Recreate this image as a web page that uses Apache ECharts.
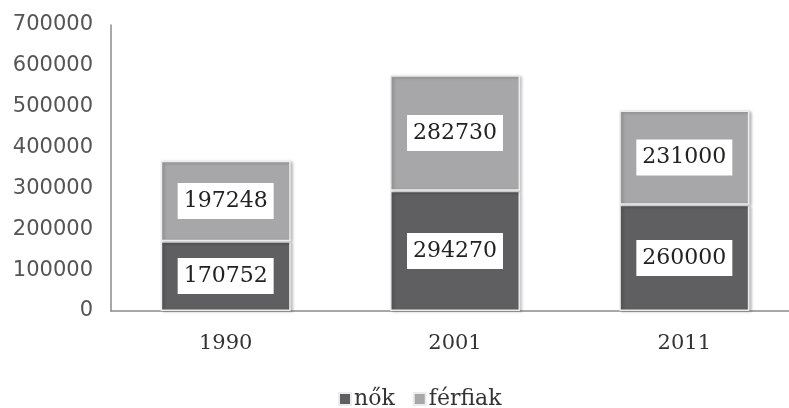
<!DOCTYPE html>
<html>
<head>
<meta charset="utf-8">
<script src="https://cdn.jsdelivr.net/npm/echarts@6/dist/echarts.min.js"></script>
<style>
  html, body { margin: 0; padding: 0; background: #fff; }
  #main { width: 789px; height: 408px; }
</style>
</head>
<body>
<div id="main"></div>
<script>
// chart data
const years = ["1990", "2001", "2011"];
const nok = [170752, 294270, 260000];
const ferfiak = [197248, 282730, 231000];

const darkGray = "#5f5f61";
const lightGray = "#a7a7a9";

const labelStyle = {
  show: true,
  position: "inside",
  color: "#222",
  fontFamily: "DejaVu Serif",
  fontSize: 22,
  backgroundColor: "#fff",
  padding: [8, 6, 6, 6]
};

const barStyle = (color) => ({
  color: color,
  borderColor: "#ececec",
  borderWidth: 1.5,
  shadowColor: "rgba(0,0,0,0.25)",
  shadowBlur: 3,
  shadowOffsetX: 2,
  shadowOffsetY: 1
});

let options = {
  animation: false,
  grid: { left: 111, width: 688, top: 25, bottom: 97, outerBoundsMode: "none", containLabel: false },
  legend: {
    top: 388,
    left: 338,
    padding: 0,
    itemWidth: 12,
    itemHeight: 12,
    itemGap: 18,
    icon: "rect",
    textStyle: { fontFamily: "DejaVu Serif", fontSize: 22, color: "#333", padding: [0, 0, 0, -2] },
    data: ["nők", "férfiak"]
  },
  xAxis: {
    type: "category",
    data: years,
    axisLine: { lineStyle: { color: "#8a8a8a", width: 1.5 } },
    axisTick: { show: false },
    axisLabel: { fontFamily: "DejaVu Serif", fontSize: 21, color: "#333", margin: 22 }
  },
  yAxis: {
    type: "value",
    min: 0,
    max: 700000,
    interval: 100000,
    axisLine: { show: true, lineStyle: { color: "#8a8a8a", width: 1.5 } },
    axisTick: { show: false },
    splitLine: { show: false },
    axisLabel: {
      fontFamily: "DejaVu Sans",
      fontSize: 21,
      color: "#555",
      margin: 18,
      formatter: (v) => String(v)
    }
  },
  series: [
    {
      name: "nők",
      type: "bar",
      stack: "total",
      barWidth: 130,
      data: nok,
      itemStyle: barStyle(darkGray),
      label: labelStyle
    },
    {
      name: "férfiak",
      type: "bar",
      stack: "total",
      barWidth: 130,
      data: ferfiak,
      itemStyle: barStyle(lightGray),
      label: labelStyle
    }
  ]
};

let myChart = echarts.init(document.getElementById("main"));
myChart.setOption(options);
</script>
</body>
</html>
